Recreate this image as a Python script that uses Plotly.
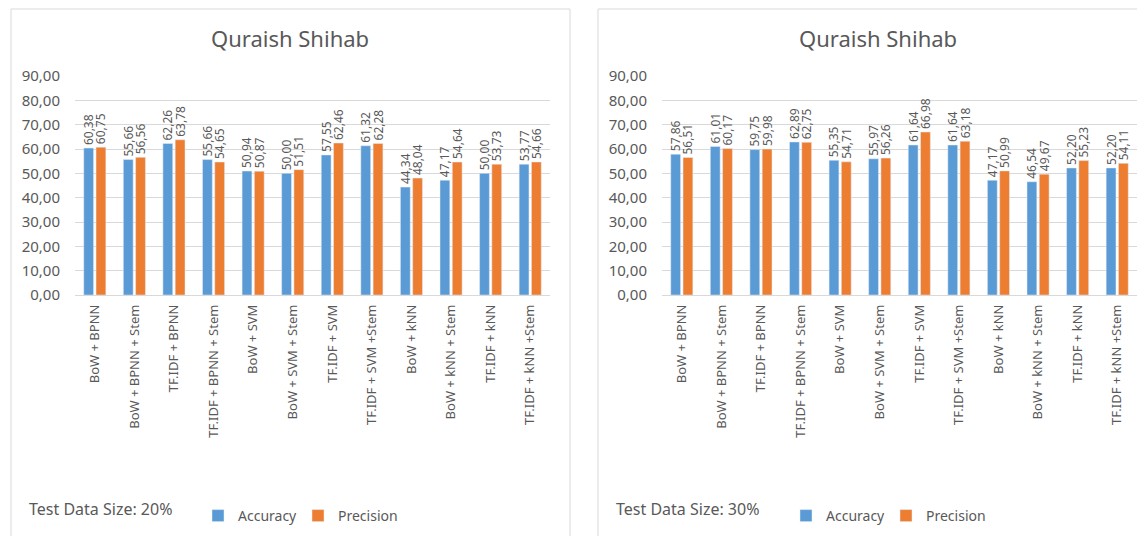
import plotly.graph_objects as go

# Data
categories = [
    "BoW + BPNN", "BoW + BPNN + Stem", "TF.IDF + BPNN", "TF.IDF + BPNN + Stem",
    "BoW + SVM", "BoW + SVM + Stem", "TF.IDF + SVM", "TF.IDF + SVM +Stem",
    "BoW + kNN", "BoW + kNN + Stem", "TF.IDF + kNN", "TF.IDF + kNN +Stem",
]
acc_20 = [60.38, 55.66, 62.26, 55.66, 50.94, 50.00, 57.55, 61.32, 44.34, 47.17, 50.00, 53.77]
prec_20 = [60.75, 56.56, 63.78, 54.65, 50.87, 51.51, 62.46, 62.28, 48.04, 54.64, 53.73, 54.66]
acc_30 = [57.86, 61.01, 59.75, 62.89, 55.35, 55.97, 61.64, 61.64, 47.17, 46.54, 52.20, 52.20]
prec_30 = [56.51, 60.17, 59.98, 62.75, 54.71, 56.26, 66.98, 63.18, 50.99, 49.67, 55.23, 54.11]
y_ticks = [0, 10, 20, 30, 40, 50, 60, 70, 80, 90]

W, H = 1145, 536
OFF = 8  # page body margin
BLUE = "#5B9BD5"
ORANGE = "#ED7D31"
TXT = "#595959"
GRID = "#D9D9D9"
FONT = "Noto Sans"


def px(x):
    return (x - OFF) / W


def py(y):
    return 1 - (y - OFF) / H


def fmt(v):
    return f"{v:.2f}".replace(".", ",")


def bar(vals, name, color, xa, ya, legend):
    return go.Bar(
        x=categories, y=vals, name=name, marker_color=color,
        text=[fmt(v) for v in vals], textposition="outside", textangle=-90,
        constraintext="none",
        textfont=dict(size=12, color=TXT, family=FONT), cliponaxis=False,
        xaxis=xa, yaxis=ya, legend=legend,
    )


fig = go.Figure()
fig.add_trace(bar(acc_20, "Accuracy", BLUE, "x", "y", "legend"))
fig.add_trace(bar(prec_20, "Precision", ORANGE, "x", "y", "legend"))
fig.add_trace(bar(acc_30, "Accuracy", BLUE, "x2", "y2", "legend2"))
fig.add_trace(bar(prec_30, "Precision", ORANGE, "x2", "y2", "legend2"))

xax = dict(
    tickangle=-90, tickfont=dict(size=13, color=TXT, family=FONT),
    showgrid=False, showline=False, ticklabelstandoff=6, fixedrange=True,
    automargin=False,
)
yax = dict(
    range=[0, 90], tickvals=y_ticks, ticktext=[fmt(v) for v in y_ticks],
    tickfont=dict(size=15, color=TXT, family=FONT), gridcolor=GRID,
    zeroline=True, zerolinecolor=GRID, zerolinewidth=1,
    ticklabelstandoff=14, fixedrange=True, automargin=False,
)

legend_style = dict(
    orientation="h", yanchor="middle", xanchor="left", y=py(516),
    font=dict(size=14, color=TXT, family=FONT), itemwidth=30,
    entrywidth=55, entrywidthmode="pixels",
    bgcolor="rgba(0,0,0,0)", traceorder="normal",
)


def title(x):
    return dict(text="Quraish Shihab", x=px(x), y=py(38), xref="paper", yref="paper",
                xanchor="center", yanchor="middle", showarrow=False,
                font=dict(size=22, color=TXT, family=FONT))


def note(text, x):
    return dict(text=text, x=px(x), y=py(509), xref="paper", yref="paper",
                xanchor="left", yanchor="middle", showarrow=False,
                font=dict(size=16, color=TXT, family=FONT))


fig.update_layout(
    width=W, height=H,
    margin=dict(l=0, r=0, t=0, b=0, autoexpand=False),
    paper_bgcolor="white", plot_bgcolor="white",
    barmode="group", bargap=0.38, bargroupgap=0.2,
    font=dict(family=FONT, color=TXT),
    xaxis=dict(domain=[px(75), px(550)], anchor="y", **xax),
    yaxis=dict(domain=[py(295), py(76)], anchor="x", **yax),
    xaxis2=dict(domain=[px(662), px(1137)], anchor="y2", **xax),
    yaxis2=dict(domain=[py(295), py(76)], anchor="x2", **yax),
    legend=dict(x=px(198), **legend_style),
    legend2=dict(x=px(786), **legend_style),
    shapes=[
        dict(type="rect", xref="paper", yref="paper",
             x0=px(11), x1=px(570), y0=-0.05, y1=py(9),
             line=dict(color=GRID, width=1)),
        dict(type="rect", xref="paper", yref="paper",
             x0=px(598), x1=1.05, y0=-0.05, y1=py(9),
             line=dict(color=GRID, width=1)),
    ],
    annotations=[
        title(290),
        title(878),
        note("Test Data Size: 20%", 27),
        note("Test Data Size: 30%", 614),
    ],
)

fig.write_html("out.html")
